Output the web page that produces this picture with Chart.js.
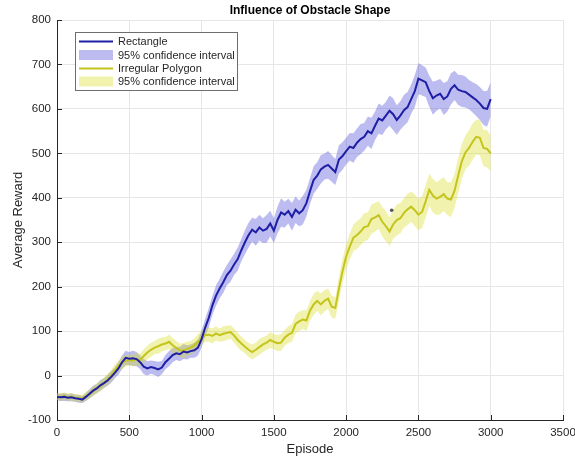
<!DOCTYPE html>
<html>
<head>
<meta charset="utf-8">
<script src="https://cdn.jsdelivr.net/npm/chart.js@4.4.1/dist/chart.umd.min.js"></script>
<style>
  html, body { margin: 0; padding: 0; background: #fff; }
  #wrap { width: 575px; height: 458px; }
</style>
</head>
<body>
<div id="wrap"><canvas id="rewardChart"></canvas></div>
<script>
// episodes sampled every 25
const episodes = [
  0, 25, 50, 75, 100, 125, 150, 175, 200, 225, 250, 275, 300, 325, 350, 375, 400, 425, 450, 475,
  500, 525, 550, 575, 600, 625, 650, 675, 700, 725, 750, 775, 800, 825, 850, 875, 900, 925, 950, 975,
  1000, 1025, 1050, 1075, 1100, 1125, 1150, 1175, 1200, 1225, 1250, 1275, 1300, 1325, 1350, 1375, 1400, 1425, 1450, 1475,
  1500, 1525, 1550, 1575, 1600, 1625, 1650, 1675, 1700, 1725, 1750, 1775, 1800, 1825, 1850, 1875, 1900, 1925, 1950, 1975,
  2000, 2025, 2050, 2075, 2100, 2125, 2150, 2175, 2200, 2225, 2250, 2275, 2300, 2325, 2350, 2375, 2400, 2425, 2450, 2475,
  2500, 2525, 2550, 2575, 2600, 2625, 2650, 2675, 2700, 2725, 2750, 2775, 2800, 2825, 2850, 2875, 2900, 2925, 2950, 2975,
  3000
];

const rectangleReward = [
  -48, -49, -48, -50, -49, -51, -52, -54, -48, -41, -34, -29, -22, -17, -11, -3, 6, 16, 30, 40,
  38, 39, 37, 30, 20, 16, 19, 17, 14, 18, 30, 38, 46, 50, 48, 54, 52, 55, 57, 63,
  82, 108, 130, 158, 180, 196, 210, 226, 236, 250, 262, 282, 300, 316, 328, 322, 333, 326, 330, 342,
  326, 350, 367, 362, 370, 357, 373, 365, 372, 388, 415, 440, 450, 464, 470, 474, 466, 458, 486, 494,
  505, 515, 512, 524, 532, 537, 550, 545, 562, 578, 574, 585, 596, 588, 575, 585, 597, 604, 622, 640,
  668, 664, 660, 640, 624, 630, 634, 622, 628, 645, 653, 643, 640, 638, 632, 626, 620, 612, 602, 600,
  622
];

// half width of the 95% band
const rectangleCI = [
  8, 8, 9, 8, 9, 8, 9, 8, 9, 10, 11, 10, 12, 11, 12, 13, 12, 14, 15, 16,
  15, 17, 16, 15, 17, 16, 15, 16, 17, 15, 16, 17, 16, 15, 16, 17, 16, 15, 17, 18,
  19, 20, 22, 21, 23, 22, 24, 23, 25, 24, 26, 25, 27, 28, 27, 30, 29, 28, 31, 29,
  28, 30, 32, 29, 28, 31, 30, 29, 32, 30, 29, 31, 30, 32, 29, 31, 30, 29, 32, 31,
  30, 31, 33, 32, 34, 31, 33, 35, 32, 34, 33, 31, 34, 36, 33, 32, 35, 34, 33, 36,
  35, 34, 33, 35, 37, 34, 33, 36, 34, 35, 33, 34, 36, 35, 33, 34, 36, 37, 38, 40,
  38
];

const polygonReward = [
  -47, -48, -46, -49, -48, -50, -51, -52, -46, -42, -35, -29, -24, -16, -9, 0, 12, 22, 29, 33,
  35, 34, 37, 35, 44, 52, 58, 63, 66, 70, 72, 76, 68, 62, 57, 56, 60, 63, 68, 76,
  84, 91, 92, 89, 95, 91, 94, 96, 98, 90, 80, 72, 65, 58, 53, 58, 64, 70, 74, 80,
  76, 73, 74, 85, 92, 96, 116, 122, 126, 124, 146, 160, 168, 160, 168, 173, 155, 152, 195, 235,
  268, 290, 310, 316, 324, 334, 336, 352, 356, 361, 346, 336, 324, 340, 350, 354, 366, 374, 380, 372,
  362, 368, 392, 418, 405, 398, 402, 408, 398, 396, 416, 450, 482, 502, 512, 526, 537, 535, 512, 510,
  500
];

const polygonCI = [
  8, 9, 8, 9, 8, 9, 8, 9, 10, 10, 11, 12, 11, 12, 13, 12, 13, 12, 14, 13,
  12, 14, 13, 14, 15, 15, 16, 15, 17, 16, 15, 16, 17, 16, 15, 17, 16, 15, 16, 17,
  16, 15, 16, 17, 16, 15, 17, 16, 15, 16, 17, 16, 15, 16, 17, 16, 18, 17, 16, 18,
  17, 18, 19, 18, 19, 20, 21, 22, 21, 23, 22, 24, 23, 25, 24, 23, 25, 24, 26, 27,
  28, 29, 30, 31, 30, 32, 31, 33, 32, 31, 33, 34, 32, 33, 35, 34, 33, 35, 34, 36,
  35, 36, 37, 36, 38, 37, 39, 38, 37, 39, 38, 40, 39, 38, 40, 41, 39, 40, 41, 42,
  40
];

// stray dark marker visible in the figure
const strayEpisode = [2315];
const strayReward = [372];

const xTicks = [0, 500, 1000, 1500, 2000, 2500, 3000, 3500];
const yTicks = [-100, 0, 100, 200, 300, 400, 500, 600, 700, 800];

const seriesNames = ["Rectangle", "95% confidence interval", "Irregular Polygon", "95% confidence interval"];

const RECT_LINE = "#1e1ea6";
const RECT_BAND = "rgba(95, 95, 220, 0.42)";
const POLY_LINE = "#c4c41c";
const POLY_BAND = "rgba(215, 222, 40, 0.38)";
const AXIS = "#262626";
const FONT = "'Liberation Sans', Arial, Helvetica, sans-serif";

const pts = (ys) => episodes.map((e, i) => ({ x: e, y: ys[i] }));
const upper = (ys, hw) => pts(ys.map((v, i) => v + hw[i]));
const lower = (ys, hw) => pts(ys.map((v, i) => v - hw[i]));

// title, legend box and MATLAB-style inward ticks
const matlabDecor = {
  id: "matlabDecor",
  afterDraw(chart) {
    const { ctx, chartArea: a, scales } = chart;
    ctx.save();

    ctx.strokeStyle = AXIS;
    ctx.lineWidth = 1;
    ctx.beginPath();
    xTicks.forEach(t => {
      const px = Math.round(scales.x.getPixelForValue(t)) + 0.5;
      ctx.moveTo(px, a.bottom);
      ctx.lineTo(px, a.bottom - 5);
    });
    yTicks.forEach(t => {
      const py = Math.round(scales.y.getPixelForValue(t)) + 0.5;
      ctx.moveTo(a.left, py);
      ctx.lineTo(a.left + 5, py);
    });
    ctx.stroke();

    ctx.fillStyle = "#000";
    ctx.font = "bold 12px " + FONT;
    ctx.textAlign = "center";
    ctx.textBaseline = "middle";
    ctx.fillText("Influence of Obstacle Shape", (a.left + a.right) / 2, 11);

    // legend
    const bx = 75.5, by = 32.5, bw = 162, bh = 58;
    ctx.fillStyle = "#fff";
    ctx.fillRect(bx, by, bw, bh);
    ctx.strokeStyle = "#6e6e6e";
    ctx.strokeRect(bx, by, bw, bh);

    const rows = [41.5, 55, 68.5, 81.5];
    const kinds = [
      { line: RECT_LINE }, { band: RECT_BAND },
      { line: POLY_LINE }, { band: POLY_BAND }
    ];
    ctx.font = "11px " + FONT;
    ctx.textAlign = "left";
    rows.forEach((ry, i) => {
      const k = kinds[i];
      if (k.line) {
        ctx.strokeStyle = k.line;
        ctx.lineWidth = 2;
        ctx.beginPath();
        ctx.moveTo(79, ry);
        ctx.lineTo(113, ry);
        ctx.stroke();
      } else {
        ctx.fillStyle = k.band;
        ctx.fillRect(79, ry - 5, 34, 10);
      }
      ctx.fillStyle = AXIS;
      ctx.fillText(seriesNames[i], 118, ry + 0.5);
    });

    ctx.restore();
  }
};

new Chart(document.getElementById("rewardChart"), {
  type: "line",
  data: {
    datasets: [
      {
        label: seriesNames[0],
        data: pts(rectangleReward),
        borderColor: RECT_LINE,
        borderWidth: 2,
        pointRadius: 0,
        fill: false,
        order: 0
      },
      {
        label: seriesNames[2],
        data: pts(polygonReward),
        borderColor: POLY_LINE,
        borderWidth: 2,
        pointRadius: 0,
        fill: false,
        order: 0
      },
      {
        label: "rect upper",
        data: upper(rectangleReward, rectangleCI),
        borderWidth: 0,
        pointRadius: 0,
        backgroundColor: RECT_BAND,
        fill: "+1",
        order: 2
      },
      {
        label: "rect lower",
        data: lower(rectangleReward, rectangleCI),
        borderWidth: 0,
        pointRadius: 0,
        fill: false,
        order: 2
      },
      {
        label: "poly upper",
        data: upper(polygonReward, polygonCI),
        borderWidth: 0,
        pointRadius: 0,
        backgroundColor: POLY_BAND,
        fill: "+1",
        order: 1
      },
      {
        label: "poly lower",
        data: lower(polygonReward, polygonCI),
        borderWidth: 0,
        pointRadius: 0,
        fill: false,
        order: 1
      },
      {
        type: "scatter",
        label: "stray",
        data: strayEpisode.map((e, i) => ({ x: e, y: strayReward[i] })),
        pointRadius: 1.8,
        pointBackgroundColor: "#555",
        pointBorderWidth: 0,
        order: 0
      }
    ]
  },
  options: {
    responsive: true,
    maintainAspectRatio: false,
    animation: false,
    devicePixelRatio: 1,
    layout: { padding: { top: 20, right: 0, left: 0, bottom: 0 } },
    plugins: {
      legend: { display: false },
      title: { display: false },
      tooltip: { enabled: false }
    },
    scales: {
      x: {
        type: "linear",
        min: 0,
        max: 3500,
        afterBuildTicks: s => { s.ticks = xTicks.map(v => ({ value: v })); },
        afterFit: s => { s.height = 38; s.paddingRight = 12; s.paddingLeft = 0; },
        ticks: {
          color: AXIS,
          font: { family: FONT, size: 11.5 },
          padding: 6,
          maxRotation: 0,
          callback: v => String(v)
        },
        grid: { color: "#e6e6e6", drawTicks: false },
        border: { color: AXIS },
        title: {
          display: true,
          text: "Episode",
          color: AXIS,
          font: { family: FONT, size: 13 },
          padding: { top: 0, bottom: 1 }
        }
      },
      y: {
        min: -100,
        max: 800,
        afterBuildTicks: s => { s.ticks = yTicks.map(v => ({ value: v })); },
        afterFit: s => { s.width = 57; },
        ticks: {
          color: AXIS,
          font: { family: FONT, size: 11.5 },
          padding: 6,
          callback: v => String(v)
        },
        grid: { color: "#e6e6e6", drawTicks: false },
        border: { color: AXIS },
        title: {
          display: true,
          text: "Average Reward",
          color: AXIS,
          font: { family: FONT, size: 13 },
          padding: { top: 11, bottom: 0 }
        }
      }
    }
  },
  plugins: [matlabDecor]
});
</script>
</body>
</html>
